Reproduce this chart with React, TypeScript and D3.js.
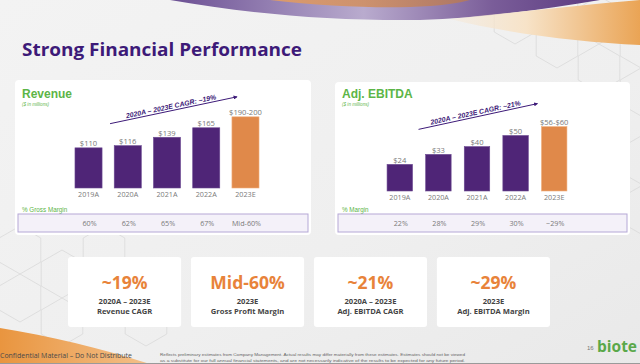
import React from 'react';
import * as d3 from 'd3';

// Chart data
const years = ['2019A', '2020A', '2021A', '2022A', '2023E'];
const revenue = [110, 116, 139, 165, 195];
const revenueLabels = ['$110', '$116', '$139', '$165', '$190-200'];
const grossMargin = ['60%', '62%', '65%', '67%', 'Mid-60%'];
const ebitda = [24, 33, 40, 50, 58];
const ebitdaLabels = ['$24', '$33', '$40', '$50', '$56-$60'];
const ebitdaMargin = ['22%', '28%', '29%', '30%', '~29%'];

const kpiValues = ['~19%', 'Mid-60%', '~21%', '~29%'];
const kpiLine1 = ['2020A – 2023E', '2023E', '2020A – 2023E', '2023E'];
const kpiLine2 = ['Revenue CAGR', 'Gross Profit Margin', 'Adj. EBITDA CAGR', 'Adj. EBITDA Margin'];

const PURPLE = '#4f2577';
const ORANGE = '#e0894a';
const GREEN = '#5cb547';
const DARK = '#3d1a78';
const GREY = '#7a7a7a';
const SANS = '"Liberation Sans", Arial, sans-serif';
const ROUND = '"Open Sans", "Noto Sans", sans-serif';

// hexagon outline (pointy top)
const hexPath = (cx: number, cy: number, r: number) => {
  const pts = d3.range(6).map((i) => {
    const a = (Math.PI / 3) * i - Math.PI / 2;
    return [cx + r * Math.cos(a), cy + r * Math.sin(a)] as [number, number];
  });
  return d3.line()(pts) + 'Z';
};

const hexes = [
  [515, 20, 24], [557, 44, 24], [599, 20, 24], [557, -4, 24], [599, 68, 24], [641, 44, 24],
  [641, 92, 24], [641, 160, 24], [641, 210, 24],
  [20, 250, 24], [62, 274, 24], [20, 298, 24], [62, 322, 24], [104, 298, 24], [-22, 274, 24],
  [104, 250, 24], [146, 322, 24],
];

type PanelProps = {
  cardX: number;
  cardY: number;
  cardW: number;
  title: string;
  values: number[];
  labels: string[];
  margins: string[];
  marginTitle: string;
  cagr: string;
  xRange: [number, number];
  padInner: number;
  yMax: number;
  base: number;
  top: number;
  arrow: { sx: number; sy: number; ex: number; ey: number };
};

const Panel = (p: PanelProps) => {
  const x = d3
    .scaleBand<string>()
    .domain(years)
    .range(p.xRange)
    .paddingInner(p.padInner)
    .paddingOuter(p.padInner / 2);
  const y = d3.scaleLinear().domain([0, p.yMax]).range([p.base, p.top]);
  const bw = x.bandwidth();

  // CAGR arrow anchored on the bars
  const ax1 = x(years[0])! + bw + p.arrow.sx;
  const ay1 = y(p.values[1]) - p.arrow.sy;
  const ax2 = x(years[4])! + p.arrow.ex;
  const ay2 = y(p.values[4]) - p.arrow.ey;
  const ang = (Math.atan2(ay2 - ay1, ax2 - ax1) * 180) / Math.PI;
  const mx = (ax1 + ax2) / 2 - 2;
  const my = (ay1 + ay2) / 2 - 1.5;

  return (
    <g>
      <rect x={p.cardX} y={p.cardY} width={p.cardW} height={235 - p.cardY} rx={4} fill="#fff" />
      <text x={p.cardX + 7} y={98} fontFamily={SANS} fontWeight={700} fontSize={12} fill={GREEN}>
        {p.title}
      </text>
      <text x={p.cardX + 7} y={105.5} fontFamily={SANS} fontStyle="italic" fontSize={4.6} fill={GREEN}>
        ($ in millions)
      </text>

      {/* CAGR arrow */}
      <line x1={ax1} y1={ay1} x2={ax2} y2={ay2} stroke={DARK} strokeWidth={1} markerEnd="url(#arrowHead)" />
      <text
        transform={`translate(${mx},${my}) rotate(${ang})`}
        textAnchor="middle"
        fontFamily={SANS}
        fontWeight={700}
        fontStyle="italic"
        fontSize={7}
        fill={DARK}
        textLength={92}
        lengthAdjust="spacingAndGlyphs"
      >
        {p.cagr}
      </text>

      {p.values.map((v, i) => (
        <g key={years[i]}>
          <rect
            x={x(years[i])}
            y={y(v)}
            width={bw}
            height={p.base - y(v)}
            fill={i === 4 ? ORANGE : PURPLE}
            stroke={i === 4 ? '#f0b07e' : '#6c4a92'}
            strokeWidth={0.6}
          />
          <text
            x={x(years[i])! + bw / 2}
            y={y(v) - 1.6}
            textAnchor="middle"
            fontFamily={ROUND}
            fontSize={7.6}
            fill={GREY}
          >
            {p.labels[i]}
          </text>
          <text
            x={x(years[i])! + bw / 2}
            y={p.base + 9}
            textAnchor="middle"
            fontFamily={ROUND}
            fontSize={7.2}
            fill={GREY}
          >
            {years[i]}
          </text>
        </g>
      ))}

      <text x={p.cardX + 7} y={212} fontFamily={SANS} fontSize={6.3} fill={GREEN}>
        {p.marginTitle}
      </text>
      <rect x={p.cardX + 3} y={214} width={p.cardW - 6} height={18} fill="#f4f1f9" stroke="#b5a8d6" strokeWidth={1} />
      {p.margins.map((m, i) => (
        <text
          key={m + i}
          x={x(years[i])! + bw / 2 + 1}
          y={226}
          textAnchor="middle"
          fontFamily={ROUND}
          fontSize={7.2}
          fill={GREY}
        >
          {m}
        </text>
      ))}
    </g>
  );
};

const App = () => {
  const kx = d3
    .scaleBand<number>()
    .domain(d3.range(kpiValues.length))
    .range([68, 550])
    .paddingInner(0.08);

  return (
    <svg
      width={640}
      height={364}
      style={{ position: 'absolute', left: 0, top: 0, display: 'block' }}
      viewBox="0 0 640 364"
    >
      <defs>
        <linearGradient id="bg" x1="0" y1="0" x2="1" y2="1">
          <stop offset="0" stopColor="#f3f3f3" />
          <stop offset="0.6" stopColor="#efefef" />
          <stop offset="1" stopColor="#e9e9e9" />
        </linearGradient>
        <linearGradient id="purpleBand" x1="0" y1="0" x2="1" y2="0">
          <stop offset="0" stopColor="#6b4f93" />
          <stop offset="0.45" stopColor="#b9abce" />
          <stop offset="0.75" stopColor="#7a5d99" />
          <stop offset="1" stopColor="#5b3a80" />
        </linearGradient>
        <linearGradient id="orangeBand" x1="0" y1="0" x2="1" y2="0">
          <stop offset="0" stopColor="#f6e7d4" stopOpacity={0.4} />
          <stop offset="0.4" stopColor="#f7e3c8" />
          <stop offset="1" stopColor="#eaa455" />
        </linearGradient>
        <linearGradient id="orangeTop" x1="0" y1="0" x2="1" y2="0">
          <stop offset="0" stopColor="#e9a060" />
          <stop offset="1" stopColor="#b4785a" />
        </linearGradient>
        <linearGradient id="cornerOrange" x1="0" y1="0" x2="1" y2="0">
          <stop offset="0" stopColor="#e9953f" />
          <stop offset="1" stopColor="#f3c08a" />
        </linearGradient>
        <marker id="arrowHead" viewBox="0 0 6 6" refX="5" refY="3" markerWidth="4" markerHeight="4" orient="auto">
          <path d="M0,0 L6,3 L0,6 Z" fill={DARK} />
        </marker>
      </defs>

      <rect width={640} height={364} fill="url(#bg)" />

      {/* decorative hexagons */}
      {hexes.map(([cx, cy, r], i) => (
        <path key={i} d={hexPath(cx, cy, r)} fill="none" stroke="#d9d9d9" strokeWidth={0.8} />
      ))}

      {/* top swoosh */}
      <path d="M170,0 C250,14 330,21 420,20 C480,18 540,10 600,0 Z" fill="url(#purpleBand)" />
      <path d="M270,0 C320,6 370,8 410,7 C440,6 460,3 470,0 Z" fill="url(#orangeTop)" opacity={0.85} />
      <path d="M450,19 C520,12 590,4 640,0 L640,45 C580,42 510,34 450,19 Z" fill="url(#orangeBand)" />

      {/* bottom-left corner */}
      <path d="M0,328 C50,336 100,348 150,364 L0,364 Z" fill="url(#cornerOrange)" />
      <line x1={0} y1={363.5} x2={640} y2={363.5} stroke="#9a9a9a" strokeWidth={1} />

      <text x={22} y={56} fontFamily={ROUND} fontWeight={700} fontSize={18} fill={DARK} textLength={280} lengthAdjust="spacingAndGlyphs">
        Strong Financial Performance
      </text>

      <Panel
        cardX={15}
        cardY={80}
        cardW={296}
        title="Revenue"
        values={revenue}
        labels={revenueLabels}
        margins={grossMargin}
        marginTitle="% Gross Margin"
        cagr="2020A – 2023E CAGR: ~19%"
        xRange={[68.9, 265.1]}
        padInner={0.31}
        yMax={200}
        base={188}
        top={115}
        arrow={{ sx: 8, sy: 22, ex: 5, ey: 20 }}
      />
      <Panel
        cardX={335}
        cardY={82}
        cardW={295}
        title="Adj. EBITDA"
        values={ebitda}
        labels={ebitdaLabels}
        margins={ebitdaMargin}
        marginTitle="% Margin"
        cagr="2020A – 2023E CAGR: ~21%"
        xRange={[380.5, 573.5]}
        padInner={0.34}
        yMax={60}
        base={191}
        top={124.4}
        arrow={{ sx: 6, sy: 25, ex: -4, ey: 23 }}
      />

      {/* KPI cards */}
      {kpiValues.map((v, i) => {
        const cx = kx(i)! + kx.bandwidth() / 2;
        return (
          <g key={v}>
            <rect x={kx(i)} y={257} width={kx.bandwidth()} height={70} rx={3} fill="#fff" />
            <text x={cx} y={289} textAnchor="middle" fontFamily={ROUND} fontWeight={700} fontSize={17.5} fill="#e8833a">
              {v}
            </text>
            <text x={cx} y={303.5} textAnchor="middle" fontFamily={ROUND} fontWeight={700} fontSize={7.6} fill="#444">
              {kpiLine1[i]}
            </text>
            <text x={cx} y={313.5} textAnchor="middle" fontFamily={ROUND} fontWeight={700} fontSize={7.6} fill="#444">
              {kpiLine2[i]}
            </text>
          </g>
        );
      })}

      {/* footer */}
      <text x={0} y={357.5} fontFamily={ROUND} fontSize={7} fill="#4a4a4a" textLength={132} lengthAdjust="spacingAndGlyphs">
        Confidential Material – Do Not Distribute
      </text>
      <text x={160} y={355.5} fontFamily={SANS} fontSize={4.4} fill="#666" textLength={305} lengthAdjust="spacingAndGlyphs">
        Reflects preliminary estimates from Company Management. Actual results may differ materially from these estimates. Estimates should not be viewed
      </text>
      <text x={160} y={361.5} fontFamily={SANS} fontSize={4.4} fill="#666" textLength={305} lengthAdjust="spacingAndGlyphs">
        as a substitute for our full annual financial statements, and are not necessarily indicative of the results to be expected for any future period.
      </text>
      <text x={587} y={350} fontFamily={SANS} fontSize={6} fill="#777">
        16
      </text>
      <text x={597} y={352} fontFamily={ROUND} fontWeight={700} fontSize={15.5} fill="#5aa84a">
        biote
      </text>
    </svg>
  );
};

export default App;
